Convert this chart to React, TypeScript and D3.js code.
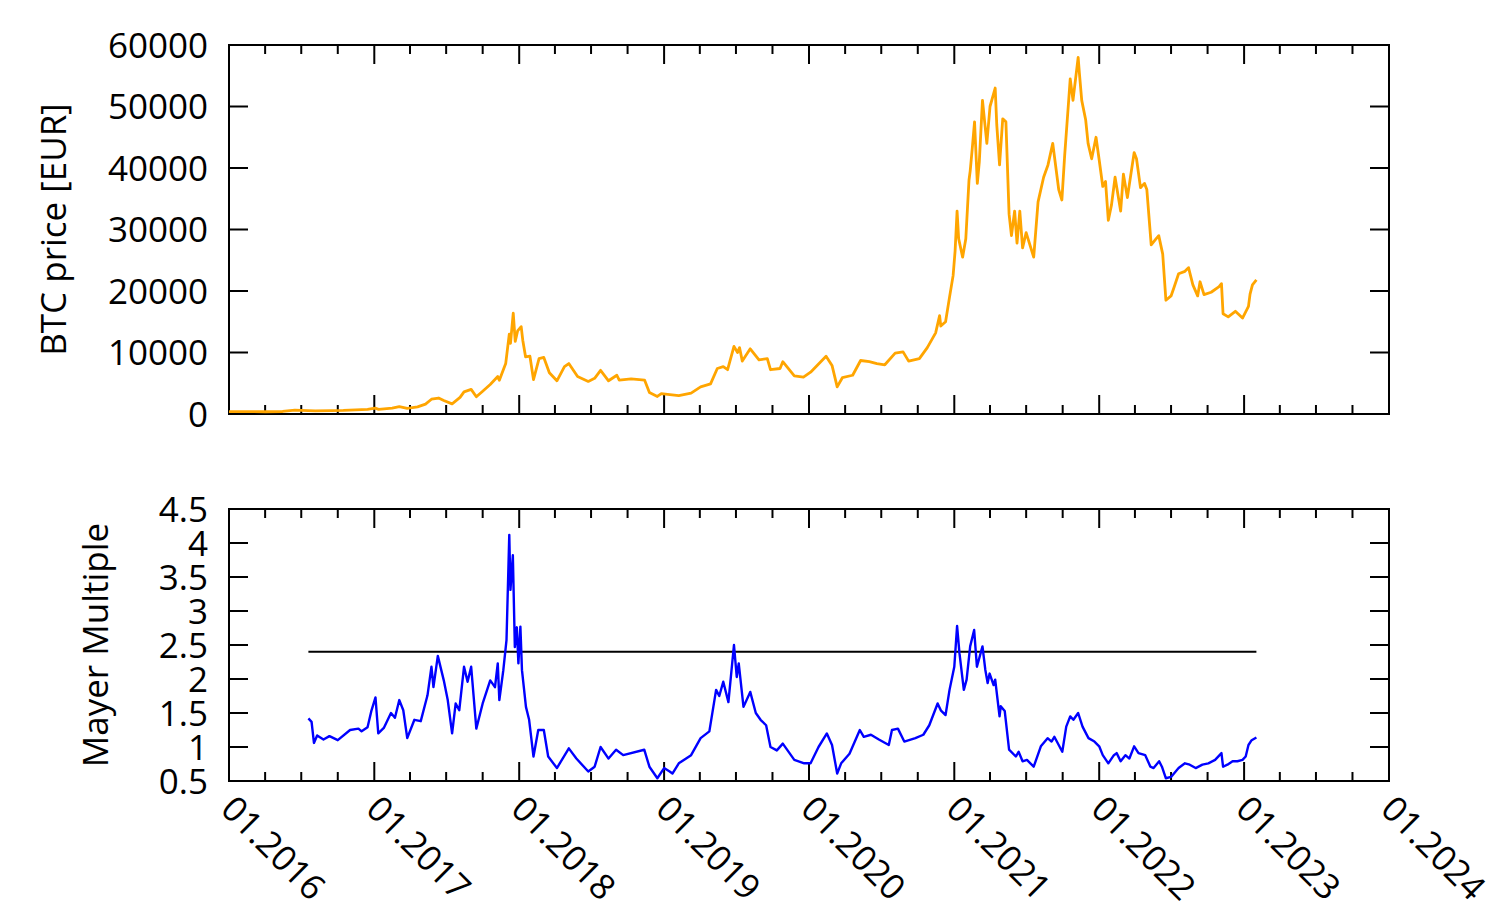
import React from "react";
import * as d3 from "d3";

// BTC price in EUR
const btcPrice: [string, number][] = [
  ["2016-01-01", 400], ["2016-02-15", 380], ["2016-04-01", 370], ["2016-05-15", 410],
  ["2016-06-15", 640], ["2016-07-01", 600], ["2016-08-05", 520], ["2016-09-15", 540],
  ["2016-10-15", 580], ["2016-11-15", 680], ["2016-12-15", 750], ["2017-01-03", 950],
  ["2017-01-12", 750], ["2017-02-15", 950], ["2017-03-05", 1200], ["2017-03-25", 900],
  ["2017-04-20", 1150], ["2017-05-10", 1600], ["2017-05-25", 2400], ["2017-06-12", 2600],
  ["2017-06-25", 2200], ["2017-07-16", 1650], ["2017-08-05", 2700], ["2017-08-15", 3600],
  ["2017-09-02", 4000], ["2017-09-15", 2800], ["2017-10-01", 3700], ["2017-10-20", 4800],
  ["2017-11-08", 6100], ["2017-11-12", 5500], ["2017-11-28", 8200], ["2017-12-07", 13000],
  ["2017-12-10", 11500], ["2017-12-17", 16400], ["2017-12-22", 11800], ["2017-12-28", 13500],
  ["2018-01-06", 14200], ["2018-01-10", 12000], ["2018-01-17", 9300], ["2018-01-28", 9400],
  ["2018-02-06", 5600], ["2018-02-20", 9000], ["2018-03-04", 9200], ["2018-03-18", 6700],
  ["2018-04-06", 5400], ["2018-04-25", 7700], ["2018-05-06", 8200], ["2018-05-28", 6100],
  ["2018-06-24", 5300], ["2018-07-10", 5800], ["2018-07-25", 7100], ["2018-08-14", 5400],
  ["2018-09-04", 6300], ["2018-09-10", 5500], ["2018-10-10", 5700], ["2018-11-13", 5500],
  ["2018-11-25", 3500], ["2018-12-15", 2850], ["2018-12-25", 3300], ["2019-01-10", 3200],
  ["2019-02-07", 3000], ["2019-03-10", 3400], ["2019-04-03", 4400], ["2019-04-28", 4900],
  ["2019-05-15", 7400], ["2019-05-30", 7700], ["2019-06-10", 7200], ["2019-06-26", 11000],
  ["2019-07-05", 10000], ["2019-07-10", 10800], ["2019-07-17", 8600], ["2019-08-06", 10600],
  ["2019-08-28", 8800], ["2019-09-18", 9000], ["2019-09-26", 7200], ["2019-10-20", 7400],
  ["2019-10-27", 8500], ["2019-11-25", 6200], ["2019-12-18", 6000], ["2020-01-05", 6800],
  ["2020-02-13", 9400], ["2020-02-28", 7900], ["2020-03-12", 4400], ["2020-03-25", 5900],
  ["2020-04-20", 6300], ["2020-05-10", 8700], ["2020-06-01", 8500], ["2020-06-20", 8200],
  ["2020-07-10", 8000], ["2020-08-05", 9900], ["2020-08-25", 10100], ["2020-09-08", 8600],
  ["2020-10-05", 9000], ["2020-10-25", 10800], ["2020-11-15", 13200], ["2020-11-25", 16000],
  ["2020-11-28", 14300], ["2020-12-10", 15000], ["2020-12-20", 19000], ["2020-12-29", 22500],
  ["2021-01-03", 26500], ["2021-01-08", 33000], ["2021-01-12", 28500], ["2021-01-22", 25500],
  ["2021-01-30", 28500], ["2021-02-07", 38000], ["2021-02-10", 39500], ["2021-02-15", 43000],
  ["2021-02-21", 47500], ["2021-02-28", 37500], ["2021-03-05", 41000], ["2021-03-13", 51000],
  ["2021-03-24", 44000], ["2021-04-01", 50000], ["2021-04-14", 53000], ["2021-04-18", 47000],
  ["2021-04-25", 40500], ["2021-05-03", 48000], ["2021-05-11", 47500], ["2021-05-19", 32500],
  ["2021-05-25", 29000], ["2021-06-02", 33000], ["2021-06-08", 27800], ["2021-06-15", 33000],
  ["2021-06-22", 27000], ["2021-07-01", 29500], ["2021-07-20", 25500], ["2021-07-31", 34500],
  ["2021-08-14", 38500], ["2021-08-25", 40500], ["2021-09-06", 44000], ["2021-09-21", 36500],
  ["2021-09-29", 34800], ["2021-10-06", 42000], ["2021-10-15", 50000], ["2021-10-20", 54500],
  ["2021-10-27", 51000], ["2021-11-09", 58000], ["2021-11-12", 55500], ["2021-11-18", 51000],
  ["2021-11-28", 47800], ["2021-12-04", 44000], ["2021-12-13", 41500], ["2021-12-24", 45000],
  ["2022-01-01", 41300], ["2022-01-10", 37000], ["2022-01-17", 37800], ["2022-01-24", 31500],
  ["2022-02-01", 34000], ["2022-02-10", 38500], ["2022-02-24", 33000], ["2022-03-03", 39000],
  ["2022-03-13", 35200], ["2022-03-30", 42500], ["2022-04-05", 41500], ["2022-04-15", 36800],
  ["2022-04-25", 37500], ["2022-05-01", 36500], ["2022-05-12", 27500], ["2022-05-22", 28300],
  ["2022-05-31", 29000], ["2022-06-10", 26000], ["2022-06-18", 18500], ["2022-07-01", 19200],
  ["2022-07-08", 20500], ["2022-07-20", 22800], ["2022-08-05", 23200], ["2022-08-14", 23800],
  ["2022-08-25", 21000], ["2022-09-06", 19200], ["2022-09-12", 21500], ["2022-09-22", 19400],
  ["2022-10-10", 19800], ["2022-10-30", 20700], ["2022-11-05", 21200], ["2022-11-09", 16300],
  ["2022-11-22", 15800], ["2022-12-10", 16700], ["2022-12-28", 15600], ["2023-01-12", 17500],
  ["2023-01-16", 19500], ["2023-01-22", 21000], ["2023-02-01", 21800],
];

// Mayer Multiple (price / 200 day moving average)
const mayerMultiple: [string, number][] = [
  ["2016-07-19", 1.42], ["2016-07-27", 1.37], ["2016-08-02", 1.06], ["2016-08-10", 1.17],
  ["2016-08-26", 1.11], ["2016-09-10", 1.16], ["2016-10-01", 1.1], ["2016-11-01", 1.25],
  ["2016-11-22", 1.27], ["2016-11-30", 1.23], ["2016-12-15", 1.29], ["2016-12-25", 1.54],
  ["2017-01-04", 1.73], ["2017-01-11", 1.2], ["2017-01-25", 1.28], ["2017-02-12", 1.5],
  ["2017-02-22", 1.43], ["2017-03-05", 1.69], ["2017-03-15", 1.54], ["2017-03-25", 1.13],
  ["2017-04-12", 1.4], ["2017-04-28", 1.38], ["2017-05-15", 1.76], ["2017-05-25", 2.18],
  ["2017-05-30", 1.88], ["2017-06-10", 2.34], ["2017-06-25", 1.98], ["2017-07-05", 1.69],
  ["2017-07-16", 1.2], ["2017-07-25", 1.64], ["2017-08-03", 1.54], ["2017-08-15", 2.18],
  ["2017-08-24", 1.96], ["2017-09-02", 2.18], ["2017-09-15", 1.27], ["2017-10-01", 1.64],
  ["2017-10-20", 1.98], ["2017-11-01", 1.88], ["2017-11-08", 2.23], ["2017-11-12", 1.69],
  ["2017-11-22", 2.13], ["2017-11-30", 2.57], ["2017-12-07", 4.12], ["2017-12-10", 3.31],
  ["2017-12-16", 3.82], ["2017-12-21", 2.47], ["2017-12-26", 2.76], ["2017-12-30", 2.23],
  ["2018-01-04", 2.77], ["2018-01-08", 2.13], ["2018-01-18", 1.59], ["2018-01-26", 1.4],
  ["2018-02-06", 0.86], ["2018-02-18", 1.25], ["2018-03-04", 1.25], ["2018-03-15", 0.86],
  ["2018-04-06", 0.69], ["2018-05-06", 0.98], ["2018-05-25", 0.83], ["2018-06-24", 0.64],
  ["2018-07-10", 0.71], ["2018-07-25", 1.0], ["2018-08-14", 0.83], ["2018-09-02", 0.96],
  ["2018-09-20", 0.88], ["2018-11-12", 0.96], ["2018-11-25", 0.71], ["2018-12-15", 0.54],
  ["2019-01-01", 0.69], ["2019-01-15", 0.64], ["2019-01-22", 0.61], ["2019-02-07", 0.76],
  ["2019-03-10", 0.88], ["2019-04-03", 1.13], ["2019-04-25", 1.23], ["2019-05-12", 1.84],
  ["2019-05-20", 1.75], ["2019-05-30", 1.96], ["2019-06-12", 1.66], ["2019-06-26", 2.5],
  ["2019-07-03", 2.03], ["2019-07-08", 2.23], ["2019-07-20", 1.59], ["2019-08-06", 1.81],
  ["2019-08-20", 1.5], ["2019-09-01", 1.4], ["2019-09-15", 1.32], ["2019-09-26", 1.0],
  ["2019-10-12", 0.95], ["2019-10-27", 1.05], ["2019-11-25", 0.81], ["2019-12-20", 0.76],
  ["2020-01-05", 0.76], ["2020-01-25", 1.0], ["2020-02-15", 1.2], ["2020-02-28", 1.03],
  ["2020-03-12", 0.61], ["2020-03-22", 0.76], ["2020-04-12", 0.9], ["2020-05-08", 1.25],
  ["2020-05-18", 1.15], ["2020-06-05", 1.18], ["2020-06-25", 1.11], ["2020-07-20", 1.03],
  ["2020-07-28", 1.25], ["2020-08-12", 1.27], ["2020-08-28", 1.08], ["2020-09-25", 1.13],
  ["2020-10-15", 1.18], ["2020-10-30", 1.32], ["2020-11-20", 1.64], ["2020-11-28", 1.54],
  ["2020-12-10", 1.47], ["2020-12-20", 1.84], ["2021-01-01", 2.18], ["2021-01-08", 2.78],
  ["2021-01-14", 2.38], ["2021-01-25", 1.84], ["2021-02-01", 1.99], ["2021-02-10", 2.48],
  ["2021-02-20", 2.72], ["2021-02-27", 2.18], ["2021-03-13", 2.48], ["2021-03-20", 2.14],
  ["2021-03-26", 1.94], ["2021-03-31", 2.08], ["2021-04-10", 1.91], ["2021-04-14", 1.99],
  ["2021-04-25", 1.45], ["2021-04-28", 1.6], ["2021-05-08", 1.53], ["2021-05-19", 0.96],
  ["2021-06-05", 0.86], ["2021-06-12", 0.93], ["2021-06-22", 0.79], ["2021-07-03", 0.81],
  ["2021-07-20", 0.71], ["2021-08-07", 1.01], ["2021-08-24", 1.13], ["2021-09-03", 1.08],
  ["2021-09-10", 1.15], ["2021-09-30", 0.93], ["2021-10-10", 1.3], ["2021-10-20", 1.45],
  ["2021-10-28", 1.4], ["2021-11-09", 1.5], ["2021-11-20", 1.3], ["2021-12-05", 1.13],
  ["2021-12-20", 1.08], ["2022-01-01", 1.01], ["2022-01-10", 0.88], ["2022-01-24", 0.76],
  ["2022-02-07", 0.88], ["2022-02-14", 0.91], ["2022-02-24", 0.79], ["2022-03-08", 0.88],
  ["2022-03-18", 0.83], ["2022-03-30", 1.01], ["2022-04-10", 0.91], ["2022-04-27", 0.88],
  ["2022-05-10", 0.71], ["2022-05-18", 0.69], ["2022-06-01", 0.79], ["2022-06-08", 0.71],
  ["2022-06-18", 0.54], ["2022-07-01", 0.56], ["2022-07-20", 0.69], ["2022-08-05", 0.76],
  ["2022-08-17", 0.74], ["2022-09-01", 0.69], ["2022-09-18", 0.74], ["2022-10-03", 0.76],
  ["2022-10-20", 0.81], ["2022-11-05", 0.91], ["2022-11-09", 0.71], ["2022-11-20", 0.74],
  ["2022-12-03", 0.79], ["2022-12-15", 0.79], ["2022-12-28", 0.81], ["2023-01-05", 0.86],
  ["2023-01-12", 1.03], ["2023-01-20", 1.1], ["2023-02-01", 1.14],
];

const mayerThreshold = 2.4;
const thresholdSpan = ["2016-07-19", "2023-02-01"];

const priceTicks = [0, 10000, 20000, 30000, 40000, 50000, 60000];
const mayerTicks = [0.5, 1, 1.5, 2, 2.5, 3, 3.5, 4, 4.5];
const yearTicks = ["2016", "2017", "2018", "2019", "2020", "2021", "2022", "2023", "2024"];

const W = 1505;
const H = 923;
const left = 229;
const right = 1389;
const panel1 = { top: 45, bottom: 414 };
const panel2 = { top: 509, bottom: 781 };
const FONT = "'Open Sans', 'Noto Sans', sans-serif";
const FS = 35;

const parse = d3.timeParse("%Y-%m-%d");
const parseYear = d3.timeParse("%Y");
const fmt = d3.timeFormat("%m.%Y");

const App: React.FC = () => {
  const x = d3
    .scaleTime()
    .domain([parseYear("2016")!, parseYear("2024")!])
    .range([left, right]);

  const yPrice = d3.scaleLinear().domain([0, 60000]).range([panel1.bottom, panel1.top]);
  const yMayer = d3.scaleLinear().domain([0.5, 4.5]).range([panel2.bottom, panel2.top]);

  const majorX = yearTicks.map((y) => parseYear(y)!);
  // quarterly minor tics between the yearly ones
  const minorX = d3
    .timeMonth.every(3)!
    .range(majorX[0], majorX[majorX.length - 1])
    .filter((d) => d.getMonth() !== 0);

  const priceLine = d3
    .line<[string, number]>()
    .x((d) => x(parse(d[0])!))
    .y((d) => yPrice(d[1]));
  const mayerLine = d3
    .line<[string, number]>()
    .x((d) => x(parse(d[0])!))
    .y((d) => yMayer(d[1]));

  const frame = (p: { top: number; bottom: number }, yTicks: number[], ys: (v: number) => number) => (
    <g>
      {majorX.map((d, i) => (
        <g key={"M" + i}>
          <line x1={x(d)} x2={x(d)} y1={p.bottom} y2={p.bottom - 19} stroke="black" strokeWidth={2} />
          <line x1={x(d)} x2={x(d)} y1={p.top} y2={p.top + 19} stroke="black" strokeWidth={2} />
        </g>
      ))}
      {minorX.map((d, i) => (
        <g key={"m" + i}>
          <line x1={x(d)} x2={x(d)} y1={p.bottom} y2={p.bottom - 9} stroke="black" strokeWidth={2} />
          <line x1={x(d)} x2={x(d)} y1={p.top} y2={p.top + 9} stroke="black" strokeWidth={2} />
        </g>
      ))}
      {yTicks.map((v, i) => (
        <g key={"y" + i}>
          <line x1={left} x2={left + 19} y1={ys(v)} y2={ys(v)} stroke="black" strokeWidth={2} />
          <line x1={right} x2={right - 19} y1={ys(v)} y2={ys(v)} stroke="black" strokeWidth={2} />
          <text x={208} y={ys(v)} dy="0.36em" textAnchor="end" fontSize={FS} fontFamily={FONT}>
            {v}
          </text>
        </g>
      ))}
      <rect x={left} y={p.top} width={right - left} height={p.bottom - p.top} fill="none" stroke="black" strokeWidth={2} />
    </g>
  );

  return (
    <svg
      width={W}
      height={H}
      style={{ position: "absolute", left: 0, top: 0, background: "white" }}
    >
      <rect width={W} height={H} fill="white" />
      {frame(panel1, priceTicks, yPrice)}
      {frame(panel2, mayerTicks, yMayer)}

      <path d={priceLine(btcPrice)!} fill="none" stroke="#ffa500" strokeWidth={2.8} strokeLinejoin="round" />
      <line
        x1={x(parse(thresholdSpan[0])!)}
        x2={x(parse(thresholdSpan[1])!)}
        y1={yMayer(mayerThreshold)}
        y2={yMayer(mayerThreshold)}
        stroke="black"
        strokeWidth={2}
      />
      <path d={mayerLine(mayerMultiple)!} fill="none" stroke="#0000ff" strokeWidth={2.4} strokeLinejoin="round" />

      <text
        transform={`translate(53,${(panel1.top + panel1.bottom) / 2}) rotate(-90)`}
        textAnchor="middle"
        dy="0.36em"
        fontSize={FS}
        fontFamily={FONT}
      >
        BTC price [EUR]
      </text>
      <text
        transform={`translate(95,${(panel2.top + panel2.bottom) / 2}) rotate(-90)`}
        textAnchor="middle"
        dy="0.36em"
        fontSize={FS}
        fontFamily={FONT}
      >
        Mayer Multiple
      </text>

      {majorX.map((d, i) => (
        <text
          key={"xl" + i}
          transform={`translate(${x(d) - 10},${811}) rotate(45)`}
          fontSize={FS}
          fontFamily={FONT}
        >
          {fmt(d)}
        </text>
      ))}
    </svg>
  );
};

export default App;
